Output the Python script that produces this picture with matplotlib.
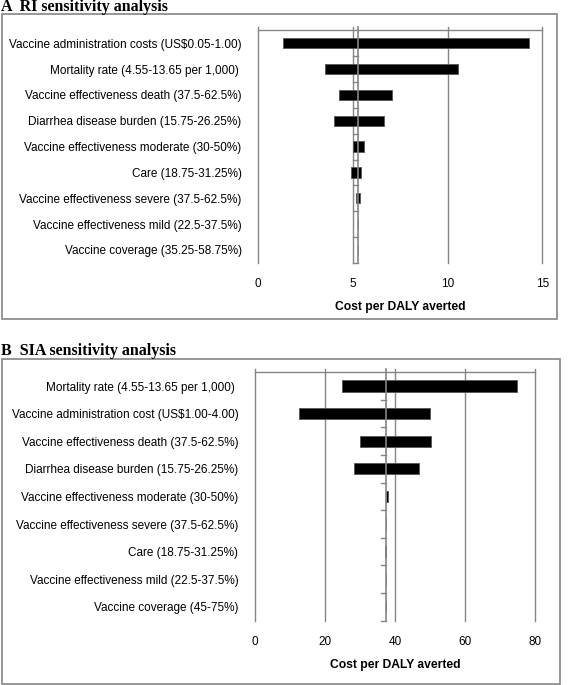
import matplotlib
matplotlib.use("Agg")
import matplotlib.pyplot as plt
from matplotlib.patches import Rectangle

# ---------------- data ----------------
ri_labels = [
    "Vaccine administration costs (US$0.05-1.00)",
    "Mortality rate (4.55-13.65 per 1,000) ",
    "Vaccine effectiveness death (37.5-62.5%)",
    "Diarrhea disease burden (15.75-26.25%)",
    "Vaccine effectiveness moderate (30-50%)",
    "Care (18.75-31.25%)",
    "Vaccine effectiveness severe (37.5-62.5%)",
    "Vaccine effectiveness mild (22.5-37.5%)",
    "Vaccine coverage (35.25-58.75%)",
]
ri_low = [1.32, 3.54, 4.26, 3.98, 5.02, 4.91, 5.18, 5.27, 5.28]
ri_high = [14.28, 10.53, 7.06, 6.62, 5.58, 5.44, 5.39, 5.29, 5.28]
ri_base = 5.28
ri_ticks = [0, 5, 10, 15]

sia_labels = [
    "Mortality rate (4.55-13.65 per 1,000) ",
    "Vaccine administration cost (US$1.00-4.00)",
    "Vaccine effectiveness death (37.5-62.5%)",
    "Diarrhea disease burden (15.75-26.25%)",
    "Vaccine effectiveness moderate (30-50%)",
    "Vaccine effectiveness severe (37.5-62.5%)",
    "Care (18.75-31.25%)",
    "Vaccine effectiveness mild (22.5-37.5%)",
    "Vaccine coverage (45-75%)",
]
sia_low = [24.97, 12.68, 30.03, 28.2, 37.4, 37.45, 37.1, 37.47, 37.47]
sia_high = [74.86, 50.06, 50.25, 46.9, 38.0, 37.5, 37.4, 37.47, 37.47]
sia_base = 37.47
sia_ticks = [0, 20, 40, 60, 80]

titles = ["A  RI sensitivity analysis", "B  SIA sensitivity analysis"]
xlabel = "Cost per DALY averted"

# ---------------- layout ----------------
W, H = 568, 685
fig = plt.figure(figsize=(W / 100, H / 100), dpi=100)
GRAY = "#858585"
FONT = "Liberation Sans"
FS = 8.5


def fx(px):
    return px / W


def fy(py):
    return 1 - py / H


def panel(rect_px, frame_px, title_y, labels, low, high, base, ticks, title):
    x0, x1, y0, y1 = rect_px
    ax = fig.add_axes([fx(x0), fy(y1), fx(x1 - x0), (y1 - y0) / H])
    n = len(labels)
    ypos = list(range(n))
    widths = [h - l for l, h in zip(low, high)]
    ax.barh(ypos, widths, left=low, height=0.4, color="black",
            edgecolor="#555555", linewidth=0.6, zorder=3)
    ax.set_xlim(ticks[0], ticks[-1])
    ax.set_ylim(n - 0.5, -0.5)
    # gridlines
    for t in ticks:
        ax.plot([t, t], [n - 0.5, -0.62], color=GRAY, lw=1.0,
                clip_on=False, zorder=1)
    ax.plot([ticks[0], ticks[-1]], [-0.5, -0.5], color=GRAY, lw=1.0,
            clip_on=False, zorder=1)
    # baseline (category axis)
    ax.plot([base, base], [n - 0.5, -0.62], color=GRAY, lw=1.2,
            clip_on=False, zorder=4)
    span = ticks[-1] - ticks[0]
    tl = span * 5.0 / (x1 - x0)
    for k in range(n):
        yb = k + 0.5
        ax.plot([base - tl, base], [yb, yb], color=GRAY, lw=1.0,
                clip_on=False, zorder=4)
    for s in ax.spines.values():
        s.set_visible(False)
    ax.set_yticks(ypos)
    ax.set_yticklabels(labels, fontsize=FS, family=FONT)
    ax.tick_params(axis="y", length=0, pad=12)
    ax.set_xticks(ticks)
    ax.set_xticklabels([str(t) for t in ticks], fontsize=FS, family=FONT)
    ax.tick_params(axis="x", length=0, pad=11)
    ax.set_xlabel(xlabel, fontsize=8.7, family=FONT, fontweight="bold",
                  labelpad=8)
    ax.patch.set_alpha(0)
    # frame
    fx0, fx1, fy0, fy1 = frame_px
    fig.patches.append(Rectangle((fx(fx0), fy(fy1)), fx(fx1 - fx0),
                                 (fy1 - fy0) / H, transform=fig.transFigure,
                                 fill=False, edgecolor=GRAY, lw=1.2))
    fig.text(fx(1), fy(title_y), title, family="Liberation Serif",
             fontweight="bold", fontsize=11.5, ha="left", va="baseline")
    return ax


panel((258.3, 542.3, 30.4, 262.9), (2, 557, 14, 319), 11,
      ri_labels, ri_low, ri_high, ri_base, ri_ticks, titles[0])
panel((255.0, 534.7, 372.2, 620.6), (2, 559.5, 359, 684), 355,
      sia_labels, sia_low, sia_high, sia_base, sia_ticks, titles[1])

fig.savefig("out.png", dpi=100)
